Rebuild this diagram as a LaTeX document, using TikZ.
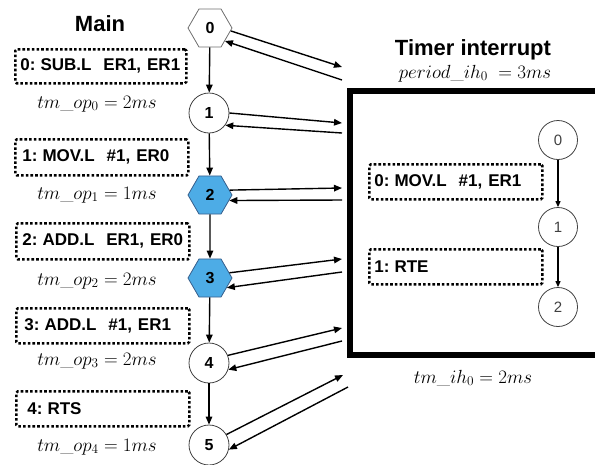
\RequirePackage{fix-cm}
\documentclass[tikz,border=0pt]{standalone}
\usepackage{fontspec}
\setsansfont{Liberation Sans}
\usetikzlibrary{shapes.geometric,arrows.meta}

\definecolor{hexblue}{RGB}{77,172,230}
\definecolor{hexedge}{RGB}{55,95,140}
\definecolor{edgegray}{RGB}{110,110,110}

\newcommand{\gapA}{\hspace{0.3em}}
\newcommand{\gapB}{\hspace{0.7em}}
\newcommand{\gapC}{\hspace{0.35em}}

\begin{document}
\begin{tikzpicture}[x=1pt,y=-1pt,
  arr/.style={-{Triangle[length=8pt,width=6.5pt]}, line width=1.4pt},
  thinarr/.style={-{Triangle[length=6pt,width=5pt]}, line width=1.1pt},
  hexnode/.style={regular polygon, regular polygon sides=6, minimum size=44pt,
    inner sep=0pt, draw=edgegray, line width=0.8pt,
    font=\sffamily\bfseries\fontsize{16}{18}\selectfont},
  bluehex/.style={hexnode, fill=hexblue, draw=hexedge},
  statenode/.style={circle, minimum size=40pt, inner sep=0pt, draw=black!75,
    line width=0.8pt, font=\sffamily\bfseries\fontsize{16}{18}\selectfont},
  substate/.style={circle, minimum size=39pt, inner sep=0pt, draw=black!75,
    line width=0.8pt, text=black!75, font=\sffamily\fontsize{15}{17}\selectfont},
  codebox/.style={draw, line width=2.6pt, dash pattern=on 2.6pt off 2.1pt,
    rounded corners=1.5pt, anchor=north west, inner xsep=5pt, inner ysep=0pt,
    align=left, font=\sffamily\bfseries\fontsize{17}{19}\selectfont},
  mathlbl/.style={anchor=base, inner sep=0pt, font=\fontsize{19}{22}\selectfont},
  title/.style={inner sep=0pt, font=\sffamily\bfseries\fontsize{22}{25}\selectfont}
]
\clip (0,0) rectangle (595,464);

% ---- main routine ----
\node[title] (maintitle) at (100,24) {Main};

\node[hexnode] (m0) at (210,28) {0};
\node[statenode] (m1) at (209,113) {1};
\node[bluehex] (m2) at (210,195) {2};
\node[bluehex] (m3) at (210,278) {3};
\node[statenode] (m4) at (209,363) {4};
\node[statenode] (m5) at (209,445) {5};

\draw[arr] (m0) -- (m1);
\draw[arr] (m1) -- (m2);
\draw[arr] (m2) -- (m3);
\draw[arr] (m3) -- (m4);
\draw[arr] (m4) -- (m5);

\node[codebox, text width=161pt, minimum height=34pt] (c0) at (14,48)
  {0:\gapA SUB.L\gapB ER1,\gapC ER1};
\node[codebox, text width=159pt, minimum height=36pt, inner xsep=7pt] (c1) at (14,138)
  {1:\gapA MOV.L\gapB\#1,\gapC ER0};
\node[codebox, text width=161pt, minimum height=36pt, inner xsep=6pt] (c2) at (15,222)
  {2:\gapA ADD.L\gapB ER1,\gapC ER0};
\node[codebox, text width=157pt, minimum height=35pt, inner xsep=8pt] (c3) at (15,307)
  {3:\gapA ADD.L\gapB\#1,\gapC ER1};
\node[codebox, text width=151pt, minimum height=35pt, inner xsep=11pt] (c4) at (15,390)
  {4:\gapA RTS};

\node[mathlbl] (t0) at (97,108) {$tm\_op_0 = 2ms$};
\node[mathlbl] (t1) at (97,199) {$tm\_op_1 = 1ms$};
\node[mathlbl] (t2) at (97,285) {$tm\_op_2 = 2ms$};
\node[mathlbl] (t3) at (97,365) {$tm\_op_3 = 2ms$};
\node[mathlbl] (t4) at (97,451) {$tm\_op_4 = 1ms$};

% ---- jumps into and out of the interrupt handler ----
\coordinate (o0) at (342,67);  \coordinate (r0) at (342,80);
\coordinate (o1) at (342,123); \coordinate (r1) at (342,133);
\coordinate (o2) at (342,188); \coordinate (r2) at (342,200);
\coordinate (o3) at (342,259); \coordinate (r3) at (342,272);
\coordinate (o4) at (342,328); \coordinate (r4) at (342,341);
\coordinate (o5) at (343,375); \coordinate (r5) at (348,387);

\draw[arr] (m0.-8) -- (o0);  \draw[arr] (r0) -- (m0.-41);
\draw[arr] (m1.0) -- (o1);   \draw[arr] (r1) -- (m1.-37);
\draw[arr] (m2.14) -- (o2);  \draw[arr] (r2) -- (m2.-16);
\draw[arr] (m3.15) -- (o3);  \draw[arr] (r3) -- (m3.-30);
\draw[arr] (m4.22) -- (o4);  \draw[arr] (r4) -- (m4.-19);
\draw[arr] (m5.31) -- (o5);  \draw[arr] (r5) -- (m5.-13);

% ---- timer interrupt handler ----
\node[title, anchor=base] (ihtitle) at (473,55) {Timer interrupt};
\node[mathlbl] (period) at (475,78) {$period\_ih_0\; = 3ms$};
\draw[line width=5.5pt] (350,91) rectangle (640,355);

\node[substate] (i0) at (558,140) {0};
\node[substate] (i1) at (558,227) {1};
\node[substate] (i2) at (558,307) {2};
\draw[thinarr] (i0) -- (i1);
\draw[thinarr] (i1) -- (i2);

\node[codebox, text width=163pt, minimum height=35pt] (h0) at (368,163)
  {0:\gapA MOV.L\gapB\#1,\gapC ER1};
\node[codebox, text width=163pt, minimum height=35pt] (h1) at (368,248)
  {1:\gapA RTE};

\node[mathlbl] (tih) at (473,383) {$tm\_ih_0 = 2ms$};
\end{tikzpicture}
\end{document}
